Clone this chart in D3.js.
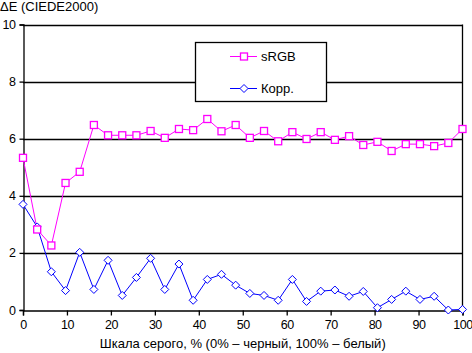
<!DOCTYPE html>
<html>
<head>
<meta charset="utf-8">
<script src="https://cdn.jsdelivr.net/npm/d3@7"></script>
<style>
  body { margin: 0; background: #fff; }
  text { font-family: "Liberation Sans", Arial, sans-serif; font-size: 13px; fill: #000; }
  .tick text { font-size: 12.5px; letter-spacing: -0.5px; }
</style>
</head>
<body>
<div id="chart"></div>
<script>
// values, 32 grey steps 0..100 %
var srgbValues = [5.33, 2.82, 2.26, 4.45, 4.84, 6.48, 6.12, 6.12, 6.12, 6.27,
  6.03, 6.34, 6.30, 6.69, 6.26, 6.48, 6.03, 6.27, 5.91, 6.23,
  5.99, 6.23, 5.96, 6.09, 5.78, 5.89, 5.57, 5.81, 5.81, 5.74, 5.85, 6.34];
var corrValues = [3.70, 2.91, 1.34, 0.68, 2.02, 0.72, 1.74, 0.51, 1.14, 1.81,
  0.72, 1.61, 0.34, 1.07, 1.25, 0.87, 0.58, 0.51, 0.34, 1.07,
  0.30, 0.66, 0.70, 0.48, 0.65, 0.08, 0.37, 0.66, 0.37, 0.48, 0.0, 0.02];
var xTicks = [0, 10, 20, 30, 40, 50, 60, 70, 80, 90, 100];
var yTicks = [0, 2, 4, 6, 8, 10];
var seriesNames = ["sRGB", "Корр."];
var yTitle = "ΔE (CIEDE2000)";
var xTitle = "Шкала серого, % (0% – черный, 100% – белый)";

(function() {
var W = 472, H = 353;
var pLeft = 23, pRight = 462.5, pTop = 24.5, pBottom = 310;

var svg = d3.select("#chart").append("svg")
  .attr("width", W).attr("height", H);

var x = d3.scaleLinear().domain([0, 100]).range([pLeft, pRight]);
var y = d3.scaleLinear().domain([0, 10]).range([pBottom, pTop]);

function xs(i, n) { return i * 100 / (n - 1); }

// gridlines
svg.append("g").selectAll("line")
  .data(yTicks.filter(function(d) { return d > 0; }))
  .enter().append("line")
  .attr("x1", pLeft).attr("x2", pRight)
  .attr("y1", function(d) { return Math.round(y(d)) + 0.5; })
  .attr("y2", function(d) { return Math.round(y(d)) + 0.5; })
  .attr("stroke", "#000").attr("stroke-width", 1.3);

// frame right side
svg.append("line")
  .attr("x1", pRight).attr("x2", pRight).attr("y1", pTop).attr("y2", pBottom)
  .attr("stroke", "#000").attr("stroke-width", 1.3);

// axes
var xAxis = d3.axisBottom(x).tickValues(xTicks).tickSize(5).tickPadding(5);
var gx = svg.append("g").attr("transform", "translate(0," + (pBottom + 0.5) + ")").call(xAxis);
var yAxis = d3.axisLeft(y).tickValues(yTicks).tickSize(4).tickPadding(3);
var gy = svg.append("g").attr("transform", "translate(" + (pLeft + 0.5) + ",0)").call(yAxis);
[gx, gy].forEach(function(g) {
  g.attr("font-size", null).attr("font-family", null);
  g.select(".domain").attr("stroke", "#000").attr("stroke-width", 1.3);
  g.selectAll(".tick line").attr("stroke", "#000").attr("stroke-width", 1.3);
});
gy.selectAll(".tick text").attr("dx", "-1");

// series lines
var line = d3.line()
  .x(function(d, i, arr) { return x(xs(i, arr.length)); })
  .y(function(d) { return y(d); });

function drawLine(vals, color) {
  svg.append("path").datum(vals)
    .attr("d", line)
    .attr("fill", "none").attr("stroke", color).attr("stroke-width", 1);
}
drawLine(corrValues, "#0000ff");
drawLine(srgbValues, "#ff00ff");

// markers
var diamond = "M0,-4L4,0L0,4L-4,0Z";
svg.append("g").selectAll("path")
  .data(corrValues).enter().append("path")
  .attr("d", diamond)
  .attr("transform", function(d, i) { return "translate(" + x(xs(i, corrValues.length)) + "," + y(d) + ")"; })
  .attr("fill", "#fff").attr("stroke", "#0000ff").attr("stroke-width", 1);

svg.append("g").selectAll("rect")
  .data(srgbValues).enter().append("rect")
  .attr("x", function(d, i) { return x(xs(i, srgbValues.length)) - 3.5; })
  .attr("y", function(d) { return y(d) - 3.5; })
  .attr("width", 7).attr("height", 7)
  .attr("fill", "#fff").attr("stroke", "#ff00ff").attr("stroke-width", 1.3);

// legend
var lg = svg.append("g");
lg.append("rect")
  .attr("x", 195.5).attr("y", 42.5).attr("width", 131).attr("height", 59)
  .attr("fill", "#fff").attr("stroke", "#000").attr("stroke-width", 1.3);
var legendItems = [
  { name: seriesNames[0], color: "#ff00ff", shape: "square", cy: 56.5 },
  { name: seriesNames[1], color: "#0000ff", shape: "diamond", cy: 88.5 }
];
legendItems.forEach(function(it) {
  lg.append("line").attr("x1", 230).attr("x2", 257).attr("y1", it.cy).attr("y2", it.cy)
    .attr("stroke", it.color).attr("stroke-width", 1);
  if (it.shape === "square") {
    lg.append("rect").attr("x", 240.5).attr("y", it.cy - 3.5).attr("width", 7).attr("height", 7)
      .attr("fill", "#fff").attr("stroke", it.color).attr("stroke-width", 1.3);
  } else {
    lg.append("path").attr("d", diamond).attr("transform", "translate(244," + it.cy + ")")
      .attr("fill", "#fff").attr("stroke", it.color).attr("stroke-width", 1);
  }
  lg.append("text").attr("x", 261).attr("y", it.cy + 4.5).text(it.name);
});

// titles
svg.append("text").attr("x", 0).attr("y", 11).text(yTitle);
svg.append("text").attr("x", (pLeft + pRight) / 2).attr("y", 348)
  .attr("text-anchor", "middle").text(xTitle);
})();
</script>
</body>
</html>
